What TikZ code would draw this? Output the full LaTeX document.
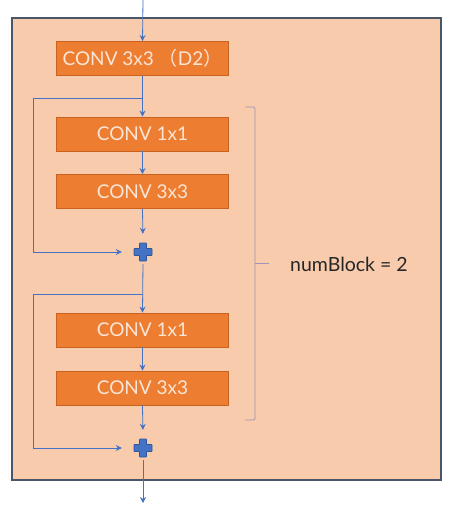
\documentclass[tikz,border=0pt]{standalone}
\usepackage{fontspec}
\setmainfont{Lato}
\newfontfamily\cjk{Noto Sans CJK SC}
\usetikzlibrary{arrows.meta}
\definecolor{bgpeach}{HTML}{F8CBAD}
\definecolor{boxorange}{HTML}{ED7D31}
\definecolor{boxedge}{HTML}{C9621F}
\definecolor{boxtext}{HTML}{FBE5D6}
\definecolor{flowblue}{HTML}{4472C4}
\definecolor{plusedge}{HTML}{2F5597}
\definecolor{frameedge}{HTML}{4A5668}
\definecolor{bracketc}{HTML}{A095B5}
\tikzset{
  convbox/.style={draw=boxedge, line width=0.8pt, fill=boxorange, text=boxtext,
    minimum width=172pt, minimum height=34pt, inner sep=0pt, font=\fontsize{19}{22}\selectfont},
  arr/.style={draw=flowblue, line width=0.8pt, -{Stealth[length=6pt,width=6pt]}},
  ln/.style={draw=flowblue, line width=0.8pt},
  plusnode/.style={minimum size=20pt, inner sep=0pt, path picture={
    \filldraw[fill=flowblue, draw=plusedge, line width=0.6pt, rounded corners=0.6pt]
      ([shift={(-3.5pt,-9pt)}]path picture bounding box.center) -- ++(7pt,0) -- ++(0,5.5pt) -- ++(5.5pt,0)
      -- ++(0,7pt) -- ++(-5.5pt,0) -- ++(0,5.5pt) -- ++(-7pt,0) -- ++(0,-5.5pt) -- ++(-5.5pt,0)
      -- ++(0,-7pt) -- ++(5.5pt,0) -- cycle;}},
  bracketline/.style={draw=bracketc, line width=0.9pt, rounded corners=1.5pt}
}
\begin{document}
\begin{tikzpicture}[x=1pt, y=-1pt]
\useasboundingbox (0,0) rectangle (455,510);
\fill[white] (0,0) rectangle (455,510);
\node[draw=frameedge, line width=1.3pt, fill=bgpeach, minimum width=429pt, minimum height=462pt, inner sep=0pt] (frame) at (226.5,249) {};

\coordinate (in) at (143,0);
\node[convbox] (b1) at (142.5,58.5) {CONV 3x3\hspace{5pt}{\cjk （}D2{\cjk ）}};
\node[convbox] (b2) at (142.5,134) {CONV 1x1};
\node[convbox] (b3) at (142.5,191.5) {CONV 3x3};
\node[plusnode] (p1) at (143,252) {};
\node[convbox] (b4) at (142.5,330) {CONV 1x1};
\node[convbox] (b5) at (142.5,388) {CONV 3x3};
\node[plusnode] (p2) at (143,448) {};
\coordinate (out) at (143,503);

\coordinate (s1) at (143,98);
\coordinate (l1) at (33,252);
\coordinate (s2) at (143,294);
\coordinate (l2) at (33,448);

\draw[arr] (in) -- (b1.north);
\draw[arr] (b1.south) -- (b2.north);
\draw[arr] (b2.south) -- (b3.north);
\draw[arr, shorten >=8pt] (b3.south) -- (p1.north);
\draw[arr, shorten >=11pt] (s1) -| (l1) -- (p1.west);
\draw[arr, shorten <=2pt] (p1.south) -- (b4.north);
\draw[arr] (b4.south) -- (b5.north);
\draw[arr, shorten >=8pt] (b5.south) -- (p2.north);
\draw[arr, shorten >=11pt] (s2) -| (l2) -- (p2.west);
\draw[arr, shorten <=2pt] (p2.south) -- (out);

\coordinate (bt) at (245,107);
\coordinate (bb) at (245,420);
\coordinate (bm) at (255,263);
\draw[bracketline] (bt) -- (255,107) -- (255,420) -- (bb);
\draw[draw=bracketc, line width=0.9pt] (bm) -- (269,263);
\node[anchor=west, text=black!85, font=\fontsize{19.5}{23}\selectfont, inner sep=0pt] (lbl) at (290,264) {numBlock = 2};
\end{tikzpicture}
\end{document}
